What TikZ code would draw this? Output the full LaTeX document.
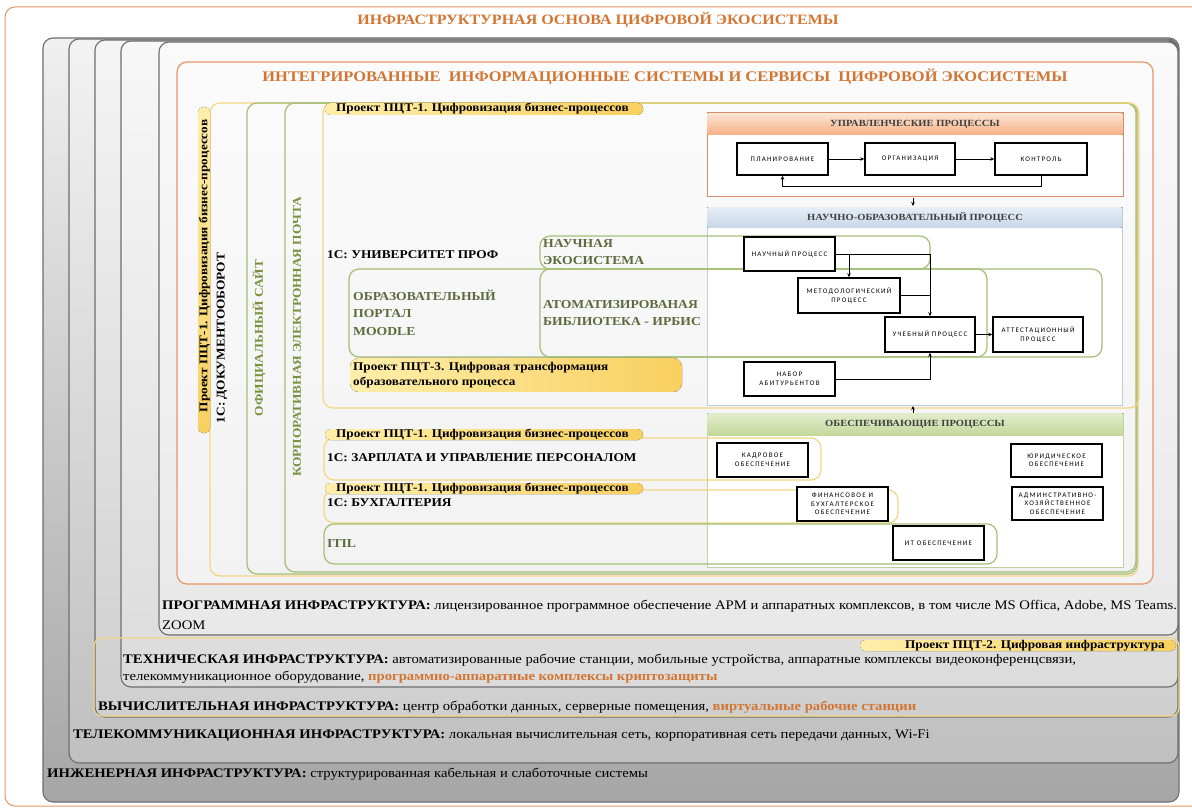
\documentclass[tikz,border=0pt]{standalone}
\usepackage{fontspec}
\setmainfont[FakeStretch=1.12]{Liberation Serif}
\newfontfamily\boxfont[LetterSpace=18]{Carlito}
\usetikzlibrary{arrows.meta}
\definecolor{ortxt}{RGB}{210,118,52}
\definecolor{orline}{RGB}{230,150,100}
\definecolor{yline}{RGB}{244,214,130}
\definecolor{yfillA}{RGB}{255,238,170}
\definecolor{yfillB}{RGB}{248,208,96}
\definecolor{gline}{RGB}{165,190,120}
\definecolor{gtxt}{RGB}{118,146,60}
\definecolor{dtxt}{RGB}{95,105,62}
\definecolor{layerline}{RGB}{110,110,110}
\definecolor{peachA}{RGB}{252,228,210}
\definecolor{peachB}{RGB}{244,176,132}
\definecolor{peachline}{RGB}{214,140,100}
\definecolor{blueA}{RGB}{230,238,246}
\definecolor{blueB}{RGB}{200,214,232}
\definecolor{blueline}{RGB}{190,205,225}
\definecolor{greenA}{RGB}{226,236,204}
\definecolor{greenB}{RGB}{196,216,156}
\definecolor{greenpline}{RGB}{190,210,160}
\tikzset{
  layer/.style={draw=layerline,line width=1.1pt,rounded corners=10pt},
  ybox/.style={draw=yline,line width=1.2pt,rounded corners=10pt},
  gbox/.style={draw=gline,line width=1.2pt,rounded corners=10pt},
  pill/.style={left color=yfillA,right color=yfillB,draw=none,rounded corners=5pt},
  proc/.style={draw=black,line width=1.4pt,fill=white,align=center,inner sep=1pt,
    font=\boxfont\fontsize{7}{8.5}\selectfont},
  arr/.style={-{Stealth[length=4pt,width=3.5pt]},line width=0.8pt},
  ln/.style={line width=0.8pt},
  pilltxt/.style={font=\bfseries\fontsize{11.8}{15}\selectfont,inner sep=0pt},
  bigtxt/.style={font=\bfseries\fontsize{11.9}{13}\selectfont,inner sep=0pt},
  lowtxt/.style={font=\fontsize{13.1}{15}\selectfont,inner sep=0pt,anchor=west},
  grntxt/.style={font=\bfseries\fontsize{12.2}{17.5}\selectfont,text=dtxt,inner sep=0pt,anchor=west,align=left},
  hdrtxt/.style={font=\bfseries\fontsize{9.4}{10}\selectfont,inner sep=0pt,text=black!75},
}
\begin{document}
\begin{tikzpicture}[x=1pt,y=-1pt]
\useasboundingbox (0,0) rectangle (1192,810);
\fill[white] (0,0) rectangle (1192,810);
% outer frame
\draw[draw=orline,line width=1pt,rounded corners=10pt] (5,7) rectangle (1230,806);
\node[font=\bfseries\fontsize{14.3}{17}\selectfont,text=ortxt] (t1) at (598,20) {ИНФРАСТРУКТУРНАЯ ОСНОВА ЦИФРОВОЙ ЭКОСИСТЕМЫ};
% infrastructure layers
\draw[layer,top color=black!6,bottom color=black!35] (43,38) rectangle (1179,802);
\draw[layer,top color=black!5,bottom color=black!25] (69,39) rectangle (1178,763);
\draw[layer,top color=black!4,bottom color=black!19] (95,40) rectangle (1178,717);
\draw[layer,top color=black!3,bottom color=black!14] (121,41) rectangle (1178,687);
\draw[layer,top color=black!2,bottom color=black!9] (159,42) rectangle (1178,635);
% project 2 frame
\draw[ybox,rounded corners=8pt] (94,638) rectangle (1179,716);
\fill[pill] (860,640) rectangle (1176,651);
\node[pilltxt,anchor=east] (p2) at (1165,645.5) {Проект ПЦТ-2. Цифровая инфраструктура};
% lower texts
\node[lowtxt] (prog1) at (162,606) {\textbf{ПРОГРАММНАЯ ИНФРАСТРУКТУРА:} лицензированное программное обеспечение АРМ и аппаратных комплексов, в том числе MS Offica, Adobe, MS Teams.};
\node[lowtxt] (prog2) at (162,625) {ZOOM};
\node[lowtxt] (tech1) at (123,660) {\textbf{ТЕХНИЧЕСКАЯ ИНФРАСТРУКТУРА:} автоматизированные рабочие станции, мобильные устройства, аппаратные комплексы видеоконференцсвязи,};
\node[lowtxt] (tech2) at (123,677) {телекоммуникационное оборудование, \textbf{\color{ortxt}программно-аппаратные комплексы криптозащиты}};
\node[lowtxt] (comp) at (98,707) {\textbf{ВЫЧИСЛИТЕЛЬНАЯ ИНФРАСТРУКТУРА:} центр обработки данных, серверные помещения, \textbf{\color{ortxt}виртуальные рабочие станции}};
\node[lowtxt] (tele) at (73,736) {\textbf{ТЕЛЕКОММУНИКАЦИОННАЯ ИНФРАСТРУКТУРА:} локальная вычислительная сеть, корпоративная сеть передачи данных, Wi-Fi};
\node[lowtxt] (eng) at (47,774) {\textbf{ИНЖЕНЕРНАЯ ИНФРАСТРУКТУРА:} структурированная кабельная и слаботочные системы};
% integrated systems frame
\draw[draw=orline,line width=1.2pt,rounded corners=10pt,fill=white,fill opacity=0.4] (177,62) rectangle (1153,584);
\node[font=\bfseries\fontsize{14.7}{18}\selectfont,text=ortxt] (t2) at (665,77) {ИНТЕГРИРОВАННЫЕ\ \ ИНФОРМАЦИОННЫЕ СИСТЕМЫ И СЕРВИСЫ\ \ ЦИФРОВОЙ ЭКОСИСТЕМЫ};
% process panels
\draw[draw=peachline,line width=1pt,fill=white] (707,113) rectangle (1123,197);
\fill[top color=peachA,bottom color=peachB] (707.5,113.5) rectangle (1122.5,135);
\node[hdrtxt] (hU) at (915,124) {УПРАВЛЕНЧЕСКИЕ ПРОЦЕССЫ};
\draw[draw=blueline,line width=0.8pt,fill=white] (707,207) rectangle (1122,405);
\fill[top color=blueA,bottom color=blueB] (707.4,207.4) rectangle (1121.6,228);
\node[hdrtxt] (hN) at (915,217.5) {НАУЧНО-ОБРАЗОВАТЕЛЬНЫЙ ПРОЦЕСС};
\draw[draw=greenpline,line width=0.8pt,fill=white] (707,413) rectangle (1123,567);
\fill[top color=greenA,bottom color=greenB] (707.4,413.4) rectangle (1122.6,435);
\node[hdrtxt] (hO) at (915,424) {ОБЕСПЕЧИВАЮЩИЕ ПРОЦЕССЫ};
% system frames
\draw[ybox] (210,103) rectangle (1138,576);
\draw[gbox] (247,103) rectangle (1137,574);
\draw[gbox] (285,103) rectangle (1136,572);
\fill[pill,top color=yfillA,bottom color=yfillB] (198,107) rectangle (210,433);
\node[pilltxt,rotate=90] (p1v) at (204.5,266) {Проект ПЦТ-1. Цифровизация бизнес-процессов};
\node[bigtxt,rotate=90] (doc) at (222,338) {1С: ДОКУМЕНТООБОРОТ};
\node[bigtxt,rotate=90,text=gtxt] (site) at (259,338) {ОФИЦИАЛЬНЫЙ САЙТ};
\node[bigtxt,rotate=90,text=gtxt] (mail) at (297,337) {КОРПОРАТИВНАЯ ЭЛЕКТРОННАЯ ПОЧТА};
% university
\draw[ybox] (323,103) rectangle (1139,408);
\fill[pill] (325,103) rectangle (643,115);
\node[pilltxt,anchor=west] (p1a) at (336,109) {Проект ПЦТ-1. Цифровизация бизнес-процессов};
\node[bigtxt,anchor=west] (univ) at (327,255) {1С: УНИВЕРСИТЕТ ПРОФ};
\draw[gbox] (349,269) rectangle (1102,357);
\draw[gbox] (540,236) rectangle (930,269);
\draw[gbox] (540,269) rectangle (987,357);
\node[grntxt] (eco) at (543,252) {НАУЧНАЯ\\ЭКОСИСТЕМА};
\node[grntxt] (moodle) at (353,312.5) {ОБРАЗОВАТЕЛЬНЫЙ\\ПОРТАЛ\\MOODLE};
\node[grntxt] (irbis) at (543,313) {АТОМАТИЗИРОВАНАЯ\\БИБЛИОТЕКА - ИРБИС};
\fill[pill,rounded corners=9pt] (350,358) rectangle (682,392);
\node[pilltxt,anchor=west,align=left] (p3) at (353,375.5) {Проект ПЦТ-3. Цифровая трансформация\\образовательного процесса};
% salary, accounting, ITIL
\draw[ybox] (324,438) rectangle (821,480);
\fill[pill] (325,429) rectangle (643,440);
\node[pilltxt,anchor=west] (p1b) at (336,434.5) {Проект ПЦТ-1. Цифровизация бизнес-процессов};
\node[bigtxt,anchor=west] (zarp) at (327,458) {1С: ЗАРПЛАТА И УПРАВЛЕНИЕ ПЕРСОНАЛОМ};
\draw[ybox] (324,490) rectangle (898,523);
\fill[pill] (325,483) rectangle (643,494);
\node[pilltxt,anchor=west] (p1c) at (336,488.5) {Проект ПЦТ-1. Цифровизация бизнес-процессов};
\node[bigtxt,anchor=west] (buh) at (327,503) {1С: БУХГАЛТЕРИЯ};
\draw[gbox] (324,524) rectangle (997,564);
\node[grntxt] (itil) at (327,544) {ITIL};
% process boxes
\node[proc,minimum width=91pt,minimum height=32pt] (plan) at (782.5,159) {ПЛАНИРОВАНИЕ};
\node[proc,minimum width=90pt,minimum height=32pt] (org) at (910,159) {ОРГАНИЗАЦИЯ};
\node[proc,minimum width=92pt,minimum height=32pt] (ctrl) at (1041,159) {КОНТРОЛЬ};
\node[proc,minimum width=91pt,minimum height=34pt] (nauch) at (789.5,254) {НАУЧНЫЙ ПРОЦЕСС};
\node[proc,minimum width=102pt,minimum height=35pt] (metod) at (849,295.5) {МЕТОДОЛОГИЧЕСКИЙ\\ПРОЦЕСС};
\node[proc,minimum width=90pt,minimum height=35pt] (ucheb) at (930,334.5) {УЧЕБНЫЙ ПРОЦЕСС};
\node[proc,minimum width=90pt,minimum height=35pt] (attest) at (1038,334.5) {АТТЕСТАЦИОННЫЙ\\ПРОЦЕСС};
\node[proc,minimum width=91pt,minimum height=34pt] (nabor) at (789.5,379) {НАБОР\\АБИТУРЬЕНТОВ};
\node[proc,minimum width=91pt,minimum height=34pt] (kadr) at (762.5,460) {КАДРОВОЕ\\ОБЕСПЕЧЕНИЕ};
\node[proc,minimum width=91pt,minimum height=33pt] (yur) at (1056.5,460.5) {ЮРИДИЧЕСКОЕ\\ОБЕСПЕЧЕНИЕ};
\node[proc,minimum width=91pt,minimum height=34pt] (fin) at (842.5,504) {ФИНАНСОВОЕ И\\БУХГАЛТЕРСКОЕ\\ОБЕСПЕЧЕНИЕ};
\node[proc,minimum width=91pt,minimum height=33pt] (adm) at (1057.5,503.5) {АДМИНСТРАТИВНО-\\ХОЗЯЙСТВЕННОЕ\\ОБЕСПЕЧЕНИЕ};
\node[proc,minimum width=91pt,minimum height=34pt] (it) at (938.5,543) {ИТ ОБЕСПЕЧЕНИЕ};
% connectors
\draw[arr] (plan) -- (org);
\draw[arr] (org) -- (ctrl);
\draw[arr] (ctrl.south) -- ++(0,11) -| (plan.south);
\coordinate (uOut) at (913,198);
\coordinate (nIn) at (913,206);
\draw[arr] (uOut) -- (nIn);
\coordinate (oOut) at (913,406);
\coordinate (oIn) at (913,413);
\draw[arr] (oIn) -- (oOut);
\draw[arr] (nauch.east) -- (nauch.east -| ucheb.north) -- (ucheb.north);
\draw[arr] (nauch.east -| metod.north) -- (metod.north);
\draw[ln] (metod.east) -- (metod.east -| ucheb.north);
\draw[arr] (ucheb) -- (attest);
\draw[arr] (nabor.east) -| (ucheb.south);
\end{tikzpicture}
\end{document}
